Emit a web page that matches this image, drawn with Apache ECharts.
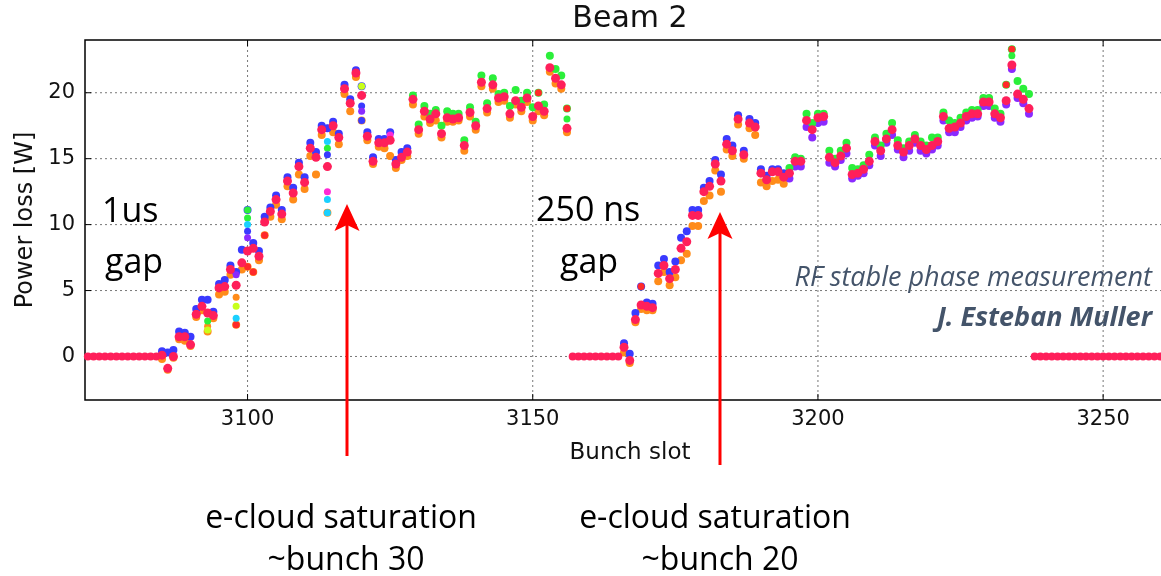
<!DOCTYPE html>
<html><head><meta charset="utf-8">
<script src="https://cdn.jsdelivr.net/npm/echarts@6/dist/echarts.min.js"></script>
<style>html,body{margin:0;padding:0;background:#fff}#c{width:1161px;height:576px}</style>
</head><body><div id="c"></div>
<script>
// ---------- data ----------
const xTicks = [3100, 3150, 3200, 3250];
const yTicks = [0, 5, 10, 15, 20];
const X_MIN = 3071.5, X_MAX = 3262.6, Y_MIN = -3.3, Y_MAX = 24;

const zeroSlots = [3072,3073,3074,3075,3076,3077,3078,3079,3080,3081,3082,3083,3084,
  3157,3158,3159,3160,3161,3162,3163,3164,3165,
  3238,3239,3240,3241,3242,3243,3244,3245,3246,3247,3248,3249,3250,3251,3252,3253,3254,3255,3256,3257,3258,3259,3260,3261,3262];

const train1Start = 3085;
const train1Main = [0.1,-0.9,0.0,1.5,1.5,0.9,3.2,3.8,3.3,3.1,
  5.2,5.3,6.6,5.4,7.1,8.0,8.2,7.6,10.2,11.0,
  11.9,10.8,13.3,12.4,14.4,13.2,15.8,15.1,17.2,14.4,
  17.5,16.6,20.3,19.2,21.5,19.8,16.7,14.8,16.2,16.2,
  16.4,14.6,15.1,15.5,19.5,17.2,18.6,18.0,18.4,16.9,
  18.1,18.0,18.1,16.0,18.5,17.5,20.8,18.8,20.6,19.6,
  19.7,18.4,19.4,18.9,19.6,18.2,19.0,18.6,21.9,21.1,
  20.6,17.3];
const train1Up = [0.4,0.3,0.5,1.9,1.8,1.5,3.6,4.3,4.3,3.4,
  5.5,5.8,6.9,6.4,8.1,11.1,8.6,8.0,10.6,11.3,
  12.2,11.1,13.6,12.8,14.7,13.6,16.2,15.5,17.5,17.3,
  17.8,16.9,20.6,19.5,21.7,20.5,17.0,15.1,16.5,16.5,
  17.0,14.9,15.5,15.8,19.8,17.6,19.0,18.4,18.7,17.5,
  18.6,18.4,18.4,16.4,18.9,17.8,21.3,19.2,21.1,19.9,
  20.0,19.0,20.2,19.4,20.0,18.9,20.0,19.1,22.8,21.8,
  21.3,18.8];
const train1Lo = [-0.2,-1.0,-0.1,1.3,1.2,0.8,3.0,3.5,1.9,2.9,
  4.7,4.9,6.2,2.4,6.6,6.8,6.4,7.3,9.2,10.6,
  11.5,10.4,12.9,11.9,13.8,12.7,15.2,13.8,16.8,10.9,
  17.0,16.1,19.9,18.6,21.2,17.9,16.4,14.6,15.9,15.8,
  15.2,14.3,14.9,15.2,19.1,16.9,18.2,17.7,17.9,16.6,
  17.8,17.8,17.9,15.6,18.2,17.2,20.5,18.5,20.3,19.3,
  19.4,18.1,19.1,18.6,19.3,17.9,18.6,18.3,21.6,20.7,
  20.3,17.0];

const train2Start = 3166;
const train2Main = [0.7,-0.3,2.8,3.9,3.8,3.7,6.3,6.9,5.9,6.6,
  8.2,8.7,10.7,10.7,12.5,12.9,14.6,13.3,16.1,15.6,
  18.0,15.3,17.7,17.4,13.9,13.4,14.0,14.0,13.6,13.9,
  14.8,14.8,17.9,17.2,18.1,18.2,15.1,14.7,15.2,15.8,
  13.8,13.9,14.2,14.8,16.3,15.6,16.5,17.2,16.0,15.5,
  16.0,16.5,16.0,15.7,16.0,16.3,18.2,17.3,17.4,17.7,
  18.2,18.4,18.4,19.3,19.3,18.4,18.1,19.4,22.1,19.9,
  19.5,18.8];
const train2Up = [1.0,0.2,3.3,5.3,4.1,4.0,6.9,7.4,6.4,7.2,
  9.0,9.5,11.1,11.1,12.8,13.3,14.9,13.8,16.5,16.0,
  18.3,15.6,18.0,17.7,14.2,13.7,14.2,14.2,13.9,14.3,
  15.1,15.0,18.4,17.7,18.4,18.4,15.6,15.0,15.6,16.2,
  14.3,14.2,14.5,15.3,16.6,16.0,16.9,17.7,16.4,15.8,
  16.3,16.8,16.3,16.0,16.6,16.6,18.5,17.9,17.7,18.1,
  18.5,18.7,18.7,19.6,19.6,18.8,18.4,20.6,23.3,20.9,
  20.3,19.9];
const train2Lo = [0.3,-0.5,2.6,3.6,3.5,3.5,5.7,6.4,5.4,6.0,
  7.3,7.8,9.9,9.9,11.8,12.2,14.1,12.5,15.7,15.2,
  17.6,15.0,17.3,16.8,13.2,12.9,13.3,13.4,13.1,13.5,
  14.4,14.4,17.4,16.6,17.7,17.8,14.7,14.4,14.9,15.4,
  13.5,13.7,13.9,14.5,16.0,15.2,16.2,16.8,15.7,15.1,
  15.6,16.2,15.6,15.4,15.7,16.0,17.9,17.0,17.0,17.4,
  17.9,18.1,18.2,19.0,19.0,18.1,17.8,19.1,21.8,19.6,
  19.2,18.4];

// individual measurements that stand out from the stacks
const extraRed = [[3098,2.4],[3100,6.8],[3101,6.4],[3103,9.2],[3151,20.0],[3156,18.8],[3169,5.3],[3233,20.6],[3234,23.3]];
const extraOrange = [[3093,2.3],[3098,4.5],[3112,13.8],[3125,15.2]];
const extraYellow = [[3093,2.0],[3098,3.8],[3120,20.5]];
const extraGreen = [[3093,2.7],[3100,11.1],[3100,10.5],[3114,15.8],[3156,18.0],[3234,22.8]];
const extraCyan = [[3098,2.9],[3100,10.0],[3114,16.3],[3114,11.9],[3114,10.9]];
const extraBlue = [[3100,9.5],[3114,17.3],[3114,15.3],[3120,19.0],[3120,17.9]];
const extraPurple = [[3098,6.2],[3100,9.0],[3120,18.6]];
const extraMagenta = [[3114,12.5],[3125,16.8]];

// ---------- chart ----------
const C = {
  main:'#ff1f5a', red:'#ff2a2a', orange:'#ff8c1a', yellow:'#c8ff1a', green:'#2bef3a',
  cyan:'#1ad0ff', blue:'#3a3aff', purple:'#8a2aff', magenta:'#ff2ad4'
};
function pairs(start, arr){ return arr.map((v,i)=>[start+i, v]); }
const SPLIT1 = 3129, SPLIT2 = 3195;

const chart = echarts.init(document.getElementById('c'), null, {renderer:'canvas'});
const dotted = [2,3];
function scat(name, data, color, size){
  return {name, type:'scatter', data, symbol:'circle', symbolSize:size||8,
    itemStyle:{color, opacity:1}, z:3, silent:true, animation:false};
}
const option = {
  animation:false,
  grid:{left:85, top:40, width:1090, height:360, outerBoundsMode:'none', containLabel:false,
    show:true, borderColor:'#000', borderWidth:1.5, backgroundColor:'transparent'},
  xAxis:{type:'value', min:X_MIN, max:X_MAX, interval:0.5,
    name:'Bunch slot', nameLocation:'middle', nameGap:42,
    nameTextStyle:{fontFamily:'DejaVu Sans', fontSize:23, color:'#111'},
    axisLine:{show:false}, axisTick:{show:false}, splitLine:{show:false},
    axisLabel:{margin:9, fontFamily:'DejaVu Sans', fontSize:21, color:'#111',
      formatter:v=>{const r=Math.round(v); return (Math.abs(v-r)<1e-6 && xTicks.includes(r)) ? String(r) : '';}}},
  yAxis:{type:'value', min:Y_MIN, max:Y_MAX, interval:0.1,
    name:'Power loss [W]', nameLocation:'middle', nameGap:43,
    nameTextStyle:{fontFamily:'DejaVu Sans', fontSize:24, color:'#111'},
    axisLine:{show:false}, axisTick:{show:false}, splitLine:{show:false},
    axisLabel:{margin:10, fontFamily:'DejaVu Sans', fontSize:21, color:'#111',
      formatter:v=>{const r=Math.round(v); return (Math.abs(v-r)<1e-6 && yTicks.includes(r)) ? String(r) : '';}}},
  series:[
    {type:'custom', silent:true, z:1, data:xTicks.map(v=>[v, Y_MIN]),
      renderItem:(params, api)=>{
        const cs=params.coordSys; const p=api.coord([api.value(0), api.value(1)]);
        return {type:'group', children:[
          {type:'line', shape:{x1:p[0],y1:cs.y,x2:p[0],y2:cs.y+cs.height}, style:{stroke:'#777',lineWidth:1,lineDash:dotted}},
          {type:'line', shape:{x1:p[0],y1:cs.y+cs.height,x2:p[0],y2:cs.y+cs.height-6}, style:{stroke:'#000',lineWidth:1}},
          {type:'line', shape:{x1:p[0],y1:cs.y,x2:p[0],y2:cs.y+6}, style:{stroke:'#000',lineWidth:1}}
        ]};
      }},
    {type:'custom', silent:true, z:1, data:yTicks.map(v=>[X_MIN, v]),
      renderItem:(params, api)=>{
        const cs=params.coordSys; const p=api.coord([api.value(0), api.value(1)]);
        return {type:'group', children:[
          {type:'line', shape:{x1:cs.x,y1:p[1],x2:cs.x+cs.width,y2:p[1]}, style:{stroke:'#777',lineWidth:1,lineDash:dotted}},
          {type:'line', shape:{x1:cs.x,y1:p[1],x2:cs.x+6,y2:p[1]}, style:{stroke:'#000',lineWidth:1}}
        ]};
      }},
    scat('t1lo', pairs(train1Start, train1Lo), C.orange),
    scat('t1up', pairs(train1Start, train1Up), p=>p.value[0]<SPLIT1?C.blue:C.green),
    scat('t2lo', pairs(train2Start, train2Lo), p=>p.value[0]<SPLIT2?C.orange:C.purple),
    scat('t2up', pairs(train2Start, train2Up), p=>p.value[0]<SPLIT2?C.blue:C.green),
    scat('red', extraRed, C.red, 7),
    scat('orange', extraOrange, C.orange, 7),
    scat('yellow', extraYellow, C.yellow, 7),
    scat('green', extraGreen, C.green, 7),
    scat('cyan', extraCyan, C.cyan, 7),
    scat('blue', extraBlue, C.blue, 7),
    scat('purple', extraPurple, C.purple, 7),
    scat('magenta', extraMagenta, C.magenta, 7),
    scat('t1', pairs(train1Start, train1Main), C.main, 9),
    scat('t2', pairs(train2Start, train2Main), C.main, 9),
    scat('zero', zeroSlots.map(s=>[s,0]), C.main, 8)
  ],
  graphic:[
    {type:'text', x:630, y:19, style:{text:'Beam 2', font:'30px "DejaVu Sans"', fill:'#111', align:'center', verticalAlign:'middle'}},
    {type:'text', x:102, y:212, style:{text:'1us', font:'34px "Open Sans"', fill:'#000', align:'left', verticalAlign:'middle'}},
    {type:'text', x:105, y:263, style:{text:'gap', font:'34px "Open Sans"', fill:'#000', align:'left', verticalAlign:'middle'}},
    {type:'text', x:536, y:211, style:{text:'250 ns', font:'34px "Open Sans"', fill:'#000', align:'left', verticalAlign:'middle'}},
    {type:'text', x:560, y:263, style:{text:'gap', font:'34px "Open Sans"', fill:'#000', align:'left', verticalAlign:'middle'}},
    {type:'text', x:1152, y:278, style:{text:'RF stable phase measurement', font:'italic 27px "Open Sans"', fill:'#44546a', align:'right', verticalAlign:'middle'}},
    {type:'text', x:1152, y:318, style:{text:'J. Esteban Muller', font:'italic bold 27px "Open Sans"', fill:'#44546a', align:'right', verticalAlign:'middle'}},
    {type:'text', x:341, y:519, style:{text:'e-cloud saturation', font:'32px "Open Sans"', fill:'#000', align:'center', verticalAlign:'middle'}},
    {type:'text', x:346, y:561, style:{text:'~bunch 30', font:'32px "Open Sans"', fill:'#000', align:'center', verticalAlign:'middle'}},
    {type:'text', x:715, y:519, style:{text:'e-cloud saturation', font:'32px "Open Sans"', fill:'#000', align:'center', verticalAlign:'middle'}},
    {type:'text', x:720, y:561, style:{text:'~bunch 20', font:'32px "Open Sans"', fill:'#000', align:'center', verticalAlign:'middle'}},
    {type:'line', shape:{x1:347,y1:456,x2:347,y2:222}, style:{stroke:'#ff0000', lineWidth:3}, z:10},
    {type:'polygon', shape:{points:[[347,204],[334.5,231],[347,225],[359.5,231]]}, style:{fill:'#ff0000'}, z:10},
    {type:'line', shape:{x1:720,y1:465,x2:720,y2:230}, style:{stroke:'#ff0000', lineWidth:3}, z:10},
    {type:'polygon', shape:{points:[[720,212],[707.5,239],[720,233],[732.5,239]]}, style:{fill:'#ff0000'}, z:10}
  ]
};
chart.setOption(option);
</script></body></html>
